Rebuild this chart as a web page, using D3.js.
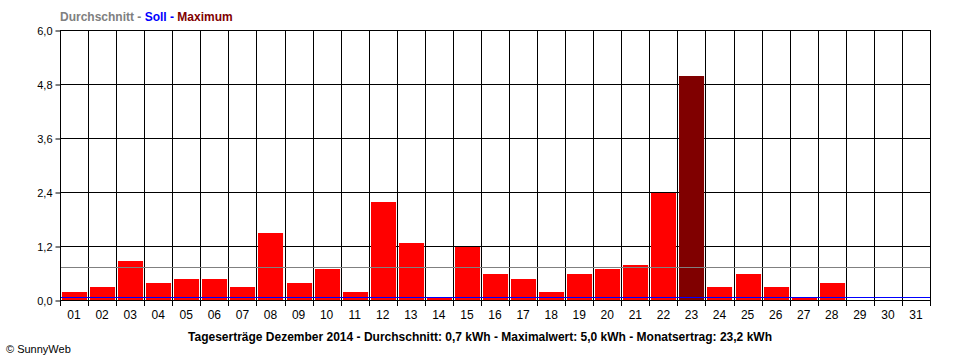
<!DOCTYPE html>
<html>
<head>
<meta charset="utf-8">
<script src="https://cdn.jsdelivr.net/npm/d3@7/dist/d3.min.js"></script>
<style>
  html, body { margin: 0; padding: 0; background: #fff; }
  svg { display: block; }
  text { font-family: "Liberation Sans", Arial, sans-serif; }
</style>
</head>
<body>
<svg id="chart" width="960" height="360"></svg>
<script>
const days = ["01","02","03","04","05","06","07","08","09","10","11","12","13","14","15","16","17","18","19","20","21","22","23","24","25","26","27","28","29","30","31"];
const yields = [0.18,0.29,0.87,0.38,0.47,0.47,0.29,1.49,0.38,0.69,0.18,2.18,1.27,0.07,1.18,0.58,0.47,0.18,0.58,0.69,0.78,2.38,4.98,0.29,0.58,0.29,0.07,0.38,0,0,0];
const averageValue = 0.73;
const targetValue = 0.067;
const yTicks = [0, 1.2, 2.4, 3.6, 4.8, 6.0];
const legendItems = [
  {label: "Durchschnitt", color: "#808080"},
  {label: "Soll", color: "#0000ff"},
  {label: "Maximum", color: "#800000"}
];
const caption = "Tageserträge Dezember 2014 - Durchschnitt: 0,7 kWh - Maximalwert: 5,0 kWh - Monatsertrag: 23,2 kWh";
const copyright = "© SunnyWeb";

const svg = d3.select("#chart");
const L = 60, R = 930, T = 30, B = 300;

const x = d3.scaleBand().domain(days).range([L, R]).padding(0);
const y = d3.scaleLinear().domain([0, 6]).range([B, T]);
const maxVal = d3.max(yields);
const fmt = v => d3.format(".1f")(v).replace(".", ",");

// horizontal grid lines
svg.append("g").selectAll("line").data(yTicks).join("line")
  .attr("x1", L).attr("x2", R)
  .attr("y1", d => Math.round(y(d)) + 0.5).attr("y2", d => Math.round(y(d)) + 0.5)
  .attr("stroke", "#000").attr("stroke-width", 1);

// vertical grid lines (column boundaries) incl. ticks below axis
const bounds = days.map(d => x(d)).concat([R]);
svg.append("g").selectAll("line").data(bounds).join("line")
  .attr("x1", d => Math.round(d) + 0.5).attr("x2", d => Math.round(d) + 0.5)
  .attr("y1", T).attr("y2", B + 6)
  .attr("stroke", "#000").attr("stroke-width", 1);

// bars
svg.append("g").selectAll("rect").data(days.map((d, i) => ({day: d, v: yields[i]})).filter(d => d.v > 0)).join("rect")
  .attr("x", d => Math.round(x(d.day)) + 2)
  .attr("width", d => x.bandwidth() - 3)
  .attr("y", d => Math.round(y(d.v)))
  .attr("height", d => B - Math.round(y(d.v)))
  .attr("fill", d => d.v === maxVal ? "#800000" : "#ff0000");

// average line
svg.append("line")
  .attr("x1", L).attr("x2", R)
  .attr("y1", Math.round(y(averageValue)) + 0.5).attr("y2", Math.round(y(averageValue)) + 0.5)
  .attr("stroke", "#808080").attr("stroke-width", 1);

// target line
svg.append("line")
  .attr("x1", L).attr("x2", R)
  .attr("y1", Math.round(y(targetValue)) + 0.5).attr("y2", Math.round(y(targetValue)) + 0.5)
  .attr("stroke", "#0000ff").attr("stroke-width", 1);

// y axis
const yAxis = svg.append("g")
  .attr("transform", `translate(${L + 0.5},0.5)`)
  .call(d3.axisLeft(y).tickValues(yTicks).tickFormat(fmt).tickSize(5).tickPadding(3));
yAxis.select(".domain").attr("stroke", "#000").attr("d", `M0,${T}V${B}`);
yAxis.selectAll("text").attr("font-size", 11).attr("fill", "#000")
  .attr("font-family", "'Liberation Sans', Arial, sans-serif");
yAxis.selectAll("line").attr("stroke", "#000");

// x axis labels
const xAxis = svg.append("g")
  .attr("transform", `translate(0,${B})`)
  .call(d3.axisBottom(x).tickSize(0).tickPadding(10));
xAxis.select(".domain").remove();
xAxis.selectAll("text").attr("font-size", 12).attr("fill", "#000")
  .attr("font-family", "'Liberation Sans', Arial, sans-serif");

// legend
const leg = svg.append("text").attr("x", 60).attr("y", 21)
  .attr("font-size", 12).attr("font-weight", "bold");
legendItems.forEach((item, i) => {
  leg.append("tspan").attr("fill", item.color)
    .text(item.label + (i < legendItems.length - 1 ? " - " : ""));
});

// caption
svg.append("text").attr("x", 480).attr("y", 341)
  .attr("text-anchor", "middle").attr("font-size", 12).attr("font-weight", "bold")
  .attr("fill", "#000").text(caption);

// copyright
svg.append("text").attr("x", 6).attr("y", 353)
  .attr("font-size", 11).attr("fill", "#000").text(copyright);
</script>
</body>
</html>
